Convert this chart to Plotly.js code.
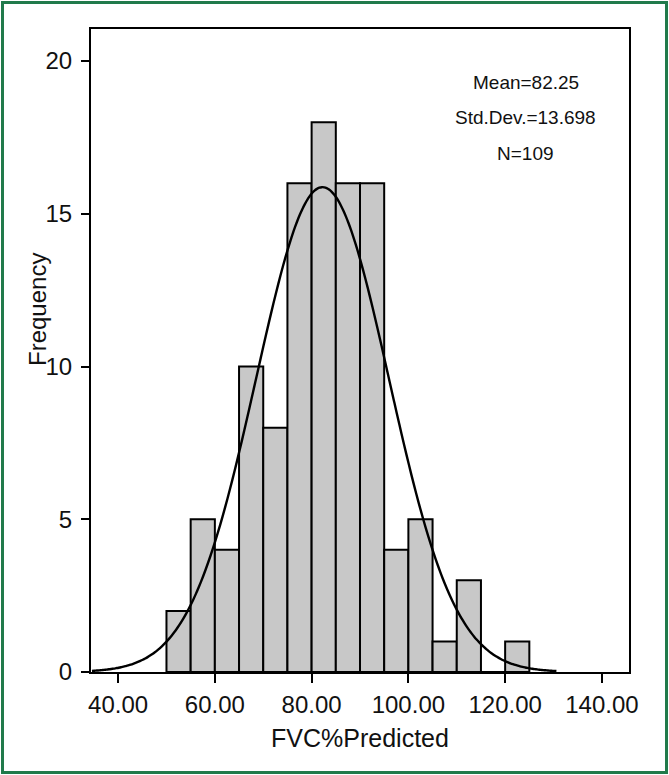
<!DOCTYPE html>
<html>
<head>
<meta charset="utf-8">
<script src="https://cdn.plot.ly/plotly-3.0.1.min.js"></script>
<style>
html,body{margin:0;padding:0;background:#fff;}
#wrap{position:relative;width:669px;height:775px;}
#chart{width:669px;height:775px;}
#frame{position:absolute;left:1px;top:1px;width:667px;height:773px;box-sizing:border-box;border:3px solid #217a4b;pointer-events:none;}
</style>
</head>
<body>
<div id="wrap"><div id="chart"></div><div id="frame"></div></div>
<script>
// Histogram bins (left edge of each 5-unit bin) and counts
const binStarts = [50, 55, 60, 65, 70, 75, 80, 85, 90, 95, 100, 105, 110, 115, 120];
const counts    = [2, 5, 4, 10, 8, 16, 18, 16, 16, 4, 5, 1, 3, 0, 1];
const binWidth = 5;
// Stated fit parameters
const meanVal = 82.25;
const sdVal = 13.698;
const nVal = 109;
const xTicks = [40, 60, 80, 100, 120, 140];
const xTickLabels = ["40.00", "60.00", "80.00", "100.00", "120.00", "140.00"];
const yTicks = [0, 5, 10, 15, 20];

const binCenters = binStarts.map(b => b + binWidth / 2);

// Normal curve from the stated Mean, Std.Dev. and N
const curveX = [], curveY = [];
for (let x = 34.6; x <= 131.001; x += 0.5) {
  curveX.push(x);
  const z = (x - meanVal) / sdVal;
  curveY.push(nVal * binWidth / (sdVal * Math.sqrt(2 * Math.PI)) * Math.exp(-0.5 * z * z));
}

const traces = [
  {
    type: 'bar', x: binCenters, y: counts, width: binWidth,
    marker: {color: '#c8c8c8', line: {color: '#000', width: 2}},
    hoverinfo: 'x+y', showlegend: false
  },
  {
    type: 'scatter', mode: 'lines', x: curveX, y: curveY,
    line: {color: '#000', width: 2.4, shape: 'spline'},
    showlegend: false, hoverinfo: 'skip'
  }
];

const layout = {
  width: 669, height: 775,
  margin: {l: 91, r: 40, t: 29, b: 103},
  paper_bgcolor: '#fff', plot_bgcolor: '#fff',
  font: {family: 'Liberation Sans, Arial, sans-serif', color: '#111'},
  bargap: 0,
  xaxis: {
    range: [34.4, 145.6], tickvals: xTicks, ticktext: xTickLabels,
    ticks: 'outside', ticklen: 9, tickwidth: 2, tickcolor: '#000',
    showline: true, linecolor: '#000', linewidth: 2, mirror: true,
    showgrid: false, zeroline: false,
    ticklabelstandoff: 1,
    tickfont: {size: 24, color: '#111'},
    title: {text: 'FVC%Predicted', font: {size: 25, color: '#111'}, standoff: 13}
  },
  yaxis: {
    range: [0, 21.05], tickvals: yTicks,
    ticks: 'outside', ticklen: 8, tickwidth: 2, tickcolor: '#000',
    showline: true, linecolor: '#000', linewidth: 2, mirror: true,
    showgrid: false, zeroline: false,
    ticklabelstandoff: 4,
    tickfont: {size: 24, color: '#111'}
  },
  annotations: [
    {xref: 'paper', yref: 'paper', x: -0.0994, y: 0.5638, text: 'Frequency', textangle: -90, showarrow: false, font: {size: 24, color: '#111'}, xanchor: 'center', yanchor: 'middle'},
    {xref: 'paper', yref: 'paper', x: 0.808, y: 0.917, text: 'Mean=82.25', showarrow: false, font: {size: 19, color: '#111'}, xanchor: 'center', yanchor: 'middle'},
    {xref: 'paper', yref: 'paper', x: 0.808, y: 0.862, text: 'Std.Dev.=13.698', showarrow: false, font: {size: 19, color: '#111'}, xanchor: 'center', yanchor: 'middle'},
    {xref: 'paper', yref: 'paper', x: 0.808, y: 0.806, text: 'N=109', showarrow: false, font: {size: 19, color: '#111'}, xanchor: 'center', yanchor: 'middle'}
  ]
};

Plotly.newPlot('chart', traces, layout, {displayModeBar: false, staticPlot: true});
</script>
</body>
</html>
